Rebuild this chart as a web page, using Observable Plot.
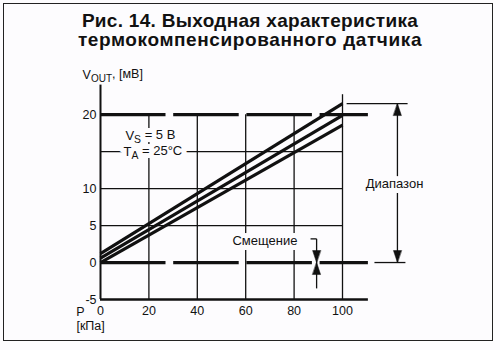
<!DOCTYPE html>
<html>
<head>
<meta charset="utf-8">
<script src="https://cdn.jsdelivr.net/npm/d3@7"></script>
<script src="https://cdn.jsdelivr.net/npm/@observablehq/plot@0.6"></script>
<style>
  body { margin: 0; background: #fdfcfe; }
  #wrap { position: relative; width: 500px; height: 350px; font-family: "Liberation Sans", Arial, sans-serif; color: #111; }
  #frame { position: absolute; left: 3px; top: 3px; width: 490px; height: 338px; border: 1.5px solid #222; box-sizing: border-box; }
  #title { position: absolute; left: 0; top: 11px; width: 500px; text-align: center; font: bold 19px/19px "Liberation Sans", Arial, sans-serif; color: #111; }
  #title .l1 { letter-spacing: 0.3px; }
  #title .l2 { letter-spacing: 0.6px; }
  #chart { position: absolute; left: 0; top: 0; }
</style>
</head>
<body>
<div id="wrap">
  <div id="frame"></div>
  <div id="chart"></div>
  <div id="title"><span class="l1">Рис. 14. Выходная характеристика</span><br><span class="l2">термокомпенсированного датчика</span></div>
</div>
<script>
// ---- data ----
const pressure = [0, 100];            // кПа
const voutHigh = [1.2, 21.5];         // мВ
const voutMid  = [0.6, 19.9];
const voutLow  = [0.0, 18.6];

const xTicks = [0, 20, 40, 60, 80, 100];
const yTicks = [-5, 0, 5, 10, 20];
const gridXShort = [20, 40, 60, 80];
const gridXLong = [100];
const gridY = [5, 10, 15];
const dashedLevels = [0, 20];

// annotations
const annoSegments = [
  {x1: 101.7, y1: 21.5, x2: 126.9, y2: 21.5},
  {x1: 122.7, y1: 21.5, x2: 122.7, y2: 0},
  {x1: 113.2, y1: 0,    x2: 126.0, y2: 0},
  {x1: 86.8,  y1: 3.2,  x2: 89.3,  y2: 3.2},
  {x1: 89.3,  y1: 3.2,  x2: 89.3,  y2: 0},
  {x1: 89.3,  y1: -3.5, x2: 89.3,  y2: 0}
];
const arrowHeads = [
  {x: 122.7, y: 21.5, rotate: 0},
  {x: 122.7, y: 0,    rotate: 180},
  {x: 89.3,  y: 0,    rotate: 180},
  {x: 89.3,  y: 0,    rotate: 0}
];
const haloLabelsMiddle = [{x: 121.5, y: 10.7, text: "Диапазон"}];
const haloLabelsEnd    = [{x: 81.4,  y: 3.0,  text: "Смещение"}];
const haloLabelsStart  = [
  {x: 10.3, y: 17.2, text: "VS = 5 В"},
  {x: 9.5,  y: 15.0, text: "TA = 25°C"}
];
const axisLabelsStart  = [{x: -7.4, y: 25.4, text: "VOUT, [мВ]"}];
const axisLabelsMiddle = [
  {x: -8.3, y: -6.75, text: "P"},
  {x: -4.1, y: -8.65, text: "[кПа]"}
];
const subscripts = {
  "VS = 5 В": ["V", "S", " = 5 В"],
  "TA = 25°C": ["T", "A", " = 25°C"],
  "VOUT, [мВ]": ["V", "OUT", ", [мВ]"]
};

const curves = [
  ...pressure.map((p, i) => ({p, v: voutHigh[i], s: "high"})),
  ...pressure.map((p, i) => ({p, v: voutMid[i], s: "mid"})),
  ...pressure.map((p, i) => ({p, v: voutLow[i], s: "low"}))
];

const ink = "#111";
const bg = "#fdfcfe";
const head = {
  draw(ctx, l, r) {
    ctx.moveTo(0, -l);
    ctx.lineTo(r, 0);
    ctx.lineTo(-r, 0);
    ctx.closePath();
  }
};
const halo = {x: "x", y: "y", text: "text", fontSize: 13, fill: bg, stroke: bg, strokeWidth: 10};
const ontop = {x: "x", y: "y", text: "text", fontSize: 13, fill: ink};
const plain = {x: "x", y: "y", text: "text", fontSize: 12.5, fill: ink};

const chart = Plot.plot({
  width: 500,
  height: 350,
  marginLeft: 100,
  marginRight: 158,
  marginTop: 84.6,
  marginBottom: 51,
  style: {background: "transparent", color: ink, fontFamily: "'Liberation Sans', Arial, sans-serif", fontSize: "12.5px", overflow: "visible"},
  x: {domain: [0, 100], axis: null},
  y: {domain: [-5, 24], axis: null},
  marks: [
    Plot.ruleX(gridXShort, {y1: -5, y2: 20, stroke: ink, strokeWidth: 1.3}),
    Plot.ruleX(gridXLong, {y1: -5, y2: 22.7, stroke: ink, strokeWidth: 1.3}),
    Plot.ruleY(gridY, {x1: 0, x2: 100, stroke: ink, strokeWidth: 1.3}),
    Plot.ruleY(dashedLevels, {x1: 0, x2: 110.7, stroke: ink, strokeWidth: 3.2, strokeDasharray: "65.5,7.7"}),
    Plot.ruleX([0], {y1: -5, y2: 24, stroke: ink, strokeWidth: 2}),
    Plot.ruleY([-5], {x1: 0, x2: 110.7, stroke: ink, strokeWidth: 2.6}),
    Plot.line(curves, {x: "p", y: "v", z: "s", stroke: ink, strokeWidth: 3.2, strokeLinecap: "butt"}),
    Plot.link(annoSegments, {x1: "x1", y1: "y1", x2: "x2", y2: "y2", stroke: ink, strokeWidth: 1.3}),
    Plot.vector(arrowHeads, {x: "x", y: "y", rotate: "rotate", length: 12, r: 4, shape: head, anchor: "end", fill: ink, stroke: ink, strokeWidth: 0.5}),
    Plot.axisX({ticks: xTicks, tickSize: 0, tickPadding: 7, fontSize: 12.5, fill: ink}),
    Plot.axisY({ticks: yTicks, tickSize: 0, tickPadding: 4, fontSize: 12.5, fill: ink, tickFormat: d => String(d)}),
    // halos first, then the ink on top
    Plot.text(haloLabelsMiddle, {...halo, textAnchor: "middle"}),
    Plot.text(haloLabelsEnd, {...halo, textAnchor: "end"}),
    Plot.text(haloLabelsStart, {...halo, textAnchor: "start"}),
    Plot.text(haloLabelsMiddle, {...ontop, textAnchor: "middle"}),
    Plot.text(haloLabelsEnd, {...ontop, textAnchor: "end"}),
    Plot.text(haloLabelsStart, {...ontop, textAnchor: "start"}),
    Plot.text(axisLabelsStart, {...plain, textAnchor: "start"}),
    Plot.text(axisLabelsMiddle, {...plain, textAnchor: "middle"})
  ]
});

// turn subscript labels into real text with tspans
d3.select(chart).selectAll("text").each(function() {
  const t = this.textContent;
  if (subscripts[t] && this.childElementCount === 0) {
    const [a, sub, b] = subscripts[t];
    const sel = d3.select(this);
    sel.text(null);
    sel.append("tspan").text(a);
    sel.append("tspan").attr("dy", "0.3em").attr("font-size", "0.8em").text(sub);
    sel.append("tspan").attr("dy", "-0.3em").text(b);
  }
});

document.getElementById("chart").append(chart);
</script>
</body>
</html>
